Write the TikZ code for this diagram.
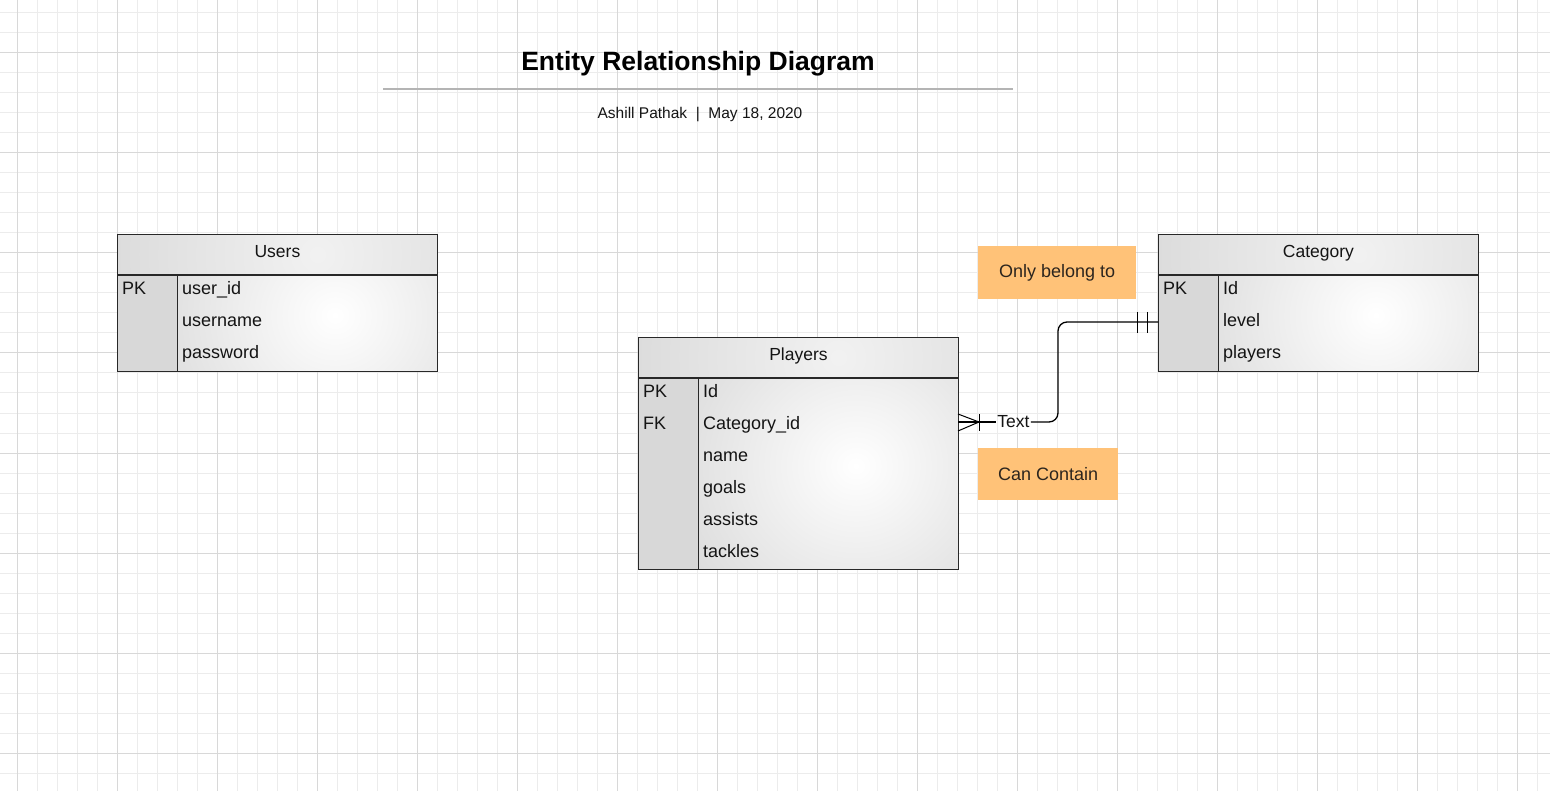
\documentclass[tikz,border=0pt]{standalone}
\usepackage{fontspec}
\setmainfont{Liberation Sans}
\usetikzlibrary{positioning,calc}
\definecolor{gridminor}{RGB}{236,236,236}
\definecolor{gridmajor}{RGB}{216,216,216}
\definecolor{notefill}{RGB}{255,194,120}
\definecolor{keygray}{RGB}{216,216,216}
\definecolor{rulegray}{RGB}{180,180,180}
\definecolor{inkline}{RGB}{40,40,40}
\definecolor{inktext}{RGB}{20,20,20}

\begin{document}
\begin{tikzpicture}[x=1pt,y=-1pt,
    entityhead/.style={draw=inkline,line width=0.9pt,minimum width=320pt,minimum height=40pt,
      path picture={\shade[inner color=white!65!keygray,outer color=keygray] ($(path picture bounding box.center)+(40,0)$) circle (240pt);},
      anchor=north west,inner sep=0pt,text height=12.5pt,text depth=6pt,font=\fontsize{17.5}{20}\selectfont,text=inktext},
    entitybody/.style={draw=inkline,line width=0.9pt,minimum width=320pt,anchor=north west,inner sep=0pt,
      path picture={\shade[inner color=white,outer color=keygray] ($(path picture bounding box.center)+(70,-8)$) circle (205pt);}},
    keycol/.style={draw=inkline,line width=0.9pt,fill=keygray,minimum width=60pt,anchor=north west,inner sep=0pt},
    fieldtext/.style={anchor=base west,inner sep=0pt,font=\fontsize{18}{21}\selectfont,text=inktext},
    notebox/.style={fill=notefill,anchor=north west,inner sep=0pt,font=\fontsize{18}{21}\selectfont,text=inktext!90!notefill},
    relline/.style={line width=1.3pt,black}]
  \useasboundingbox (0,0) rectangle (1550,791);
  \fill[white] (0,0) rectangle (1550,791);
  % background grid
  \foreach \gx in {17,37,...,1537} \draw[gridminor,line width=1pt] (\gx,0) -- (\gx,791);
  \foreach \gy in {13,33,...,773} \draw[gridminor,line width=1pt] (0,\gy) -- (1550,\gy);
  \foreach \gx in {17,117,...,1517} \draw[gridmajor,line width=1pt] (\gx,0) -- (\gx,791);
  \foreach \gy in {53,153,...,753} \draw[gridmajor,line width=1pt] (0,\gy) -- (1550,\gy);

  % title block
  \node[font=\bfseries\fontsize{26.5}{30}\selectfont,text=black] (title) at (698,64) {Entity Relationship Diagram};
  \draw[rulegray,line width=2pt] (383,89) -- (1013,89);
  \node[font=\fontsize{15.5}{18}\selectfont,text=inktext] (byline) at (700,115) {Ashill Pathak \ | \ May 18, 2020};

  % Users
  \node[entityhead] (usershead) at (117,234) {Users};
  \node[entitybody,minimum height=96pt] (usersbody) at (usershead.south west) {};
  \node[keycol,minimum height=96pt] (userskey) at (usersbody.north west) {};
  \node[fieldtext] (users-pk) at ($(usersbody.north west)+(5,20)$) {PK};
  \foreach \fld [count=\i from 0] in {user\_id,username,password}
    \node[fieldtext] (users-f\i) at ($(usersbody.north west)+(65,{20+32*\i})$) {\fld};

  % Players
  \node[entityhead] (playershead) at (638,337) {Players};
  \node[entitybody,minimum height=191pt] (playersbody) at (playershead.south west) {};
  \node[keycol,minimum height=191pt] (playerskey) at (playersbody.north west) {};
  \node[fieldtext] (players-pk) at ($(playersbody.north west)+(5,19.5)$) {PK};
  \node[fieldtext] (players-fk) at ($(playersbody.north west)+(5,51.5)$) {FK};
  \foreach \fld [count=\i from 0] in {Id,Category\_id,name,goals,assists,tackles}
    \node[fieldtext] (players-f\i) at ($(playersbody.north west)+(65,{19.5+32*\i})$) {\fld};

  % Category
  \node[entityhead] (categoryhead) at (1158,234) {Category};
  \node[entitybody,minimum height=96pt] (categorybody) at (categoryhead.south west) {};
  \node[keycol,minimum height=96pt] (categorykey) at (categorybody.north west) {};
  \node[fieldtext] (category-pk) at ($(categorybody.north west)+(5,20)$) {PK};
  \foreach \fld [count=\i from 0] in {Id,level,players}
    \node[fieldtext] (category-f\i) at ($(categorybody.north west)+(65,{20+32*\i})$) {\fld};

  % notes
  \node[notebox,minimum width=158pt,minimum height=53pt] (belongnote) at (978,246) {Only belong to};
  \node[notebox,minimum width=140pt,minimum height=52pt] (containnote) at (978,448) {Can Contain};

  % relationship Players -> Category
  \coordinate (fkend) at (958,422);
  \coordinate (lvlend) at (1158,322);
  \node[inner sep=1pt,font=\fontsize{17.5}{20}\selectfont,text=inktext] (reltext) at (1013.5,422) {Text};
  \draw[relline] (fkend) -- (reltext.west);
  \draw[relline,rounded corners=9pt] (reltext.east) -- (1058,422) -- (1058,322) -- (lvlend);
  % many end
  \draw[relline,line width=1pt] (fkend) ++(0,-8) -- ++(21,8) -- ++(-21,9);
  \draw[relline,line width=1pt] (fkend) ++(21,-8) -- ++(0,17);
  % one and only one end
  \draw[relline,line width=1pt] (lvlend) ++(-21,-10) -- ++(0,21);
  \draw[relline,line width=1pt] (lvlend) ++(-11,-10) -- ++(0,21);
\end{tikzpicture}
\end{document}
